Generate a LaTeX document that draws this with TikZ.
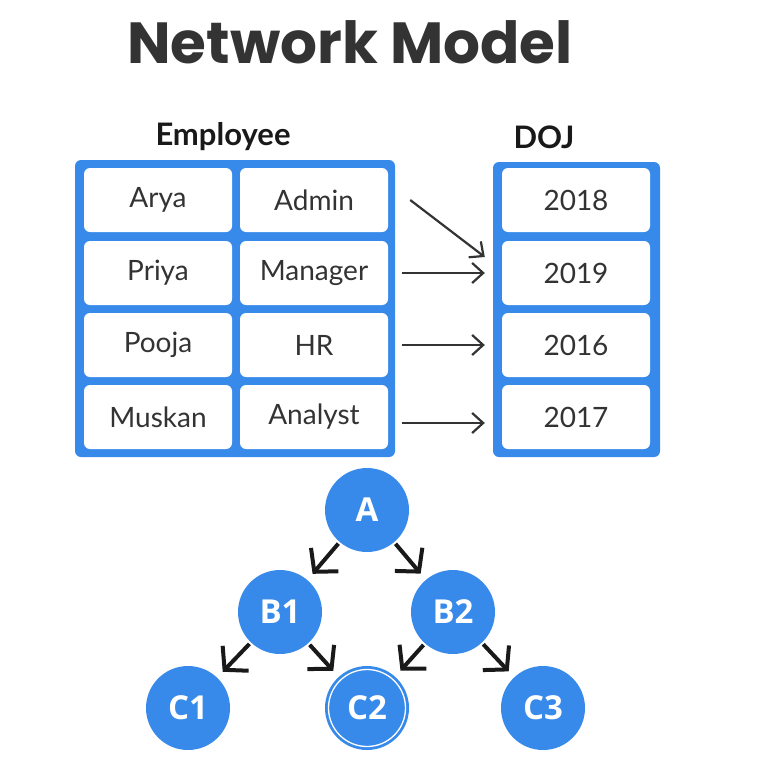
\documentclass[tikz,border=0pt]{standalone}
\usepackage{fontspec}
\setmainfont{Lato}
\newfontfamily\titlefont{Poppins}
\newfontfamily\circfont{Open Sans}
\usepackage{tikz}
\usetikzlibrary{arrows.meta}
\definecolor{netblue}{RGB}{55,138,233}
\definecolor{inkgray}{RGB}{51,51,51}
\newcommand{\ttl}      {\titlefont\bfseries\fontsize{58}{62}\selectfont}
\newcommand{\hdr}      {\bfseries\fontsize{31}{34}\selectfont}
\newcommand{\celltxt}  {\fontsize{28}{30}\selectfont}
\newcommand{\circtxt}  {\circfont\bfseries\fontsize{33}{36}\selectfont}

\begin{document}
\begin{tikzpicture}[x=1pt,y=1pt,
    cell/.style={fill=white,rounded corners=6pt,minimum width=148pt,
      minimum height=64pt,inner sep=0pt,text=inkgray,font=\celltxt},
    frame/.style={fill=netblue,rounded corners=6pt},
    link/.style={draw=inkgray,line width=2.2pt,
      -{Straight Barb[length=11pt,width=20pt,line width=2.2pt]}},
    vertex/.style={circle,fill=netblue,minimum size=84pt,inner sep=0pt,
      text=white,font=\circtxt},
    tlink/.style={draw=black!90,line width=4pt,shorten <=2pt,shorten >=8pt,
      -{Straight Barb[length=16pt,width=36pt,line width=4pt]}}]
       \useasboundingbox (0,0) rectangle (778,-776);
       % headings
       \node[text=inkgray,font=\ttl] (title) at (350,-42) {Network Model};
       \node[text=black!90,font=\hdr] (emphead) at (223,-137) {Employee};
       \node[text=black!90,font=\hdr] (dojhead) at (544,-137) {DOJ};
       % frames
       \fill[frame] (75,-160) rectangle (395,-457);
       \fill[frame] (493,-162) rectangle (660,-457);
       % employee cells
       \node[cell] (arya)    at (158,-200) {Arya};
       \node[cell] (admin)   at (314,-200) {Admin};
       \node[cell] (priya)   at (158,-273) {Priya};
       \node[cell] (manager) at (314,-273) {Manager};
       \node[cell] (pooja)   at (158,-345) {Pooja};
       \node[cell] (hr)      at (314,-345) {HR};
       \node[cell] (muskan)  at (158,-417) {Muskan};
       \node[cell] (analyst) at (314,-417) {Analyst};
       % DOJ cells
       \node[cell] (y2018) at (576,-200) {2018};
       \node[cell] (y2019) at (576,-273) {2019};
       \node[cell] (y2016) at (576,-345) {2016};
       \node[cell] (y2017) at (576,-417) {2017};
       % record links
       \draw[link] ([xshift=22pt]admin.east) -- ([xshift=-17pt,yshift=16pt]y2019.west);
       \draw[link] ([xshift=14pt]manager.east) -- ([xshift=-17pt]y2019.west);
       \draw[link] ([xshift=14pt]hr.east) -- ([xshift=-17pt]y2016.west);
       \draw[link] ([xshift=14pt,yshift=-6pt]analyst.east) -- ([xshift=-17pt,yshift=-6pt]y2017.west);
       % tree
       \node[vertex] (A)  at (367,-510) {A};
       \node[vertex] (B1) at (280,-612) {B1};
       \node[vertex] (B2) at (453,-612) {B2};
       \node[vertex] (C1) at (188,-708) {C1};
       \node[vertex] (C2) at (367,-708) {C2};
       \node[vertex] (C3) at (543,-708) {C3};
       \draw[white,line width=1.3pt] (C2) circle (38.5pt);
       \draw[tlink] (A) -- (B1);
       \draw[tlink] (A) -- (B2);
       \draw[tlink] (B1) -- (C1);
       \draw[tlink] (B1) -- (C2);
       \draw[tlink] (B2) -- (C2);
       \draw[tlink] (B2) -- (C3);
      \end{tikzpicture}
\end{document}
